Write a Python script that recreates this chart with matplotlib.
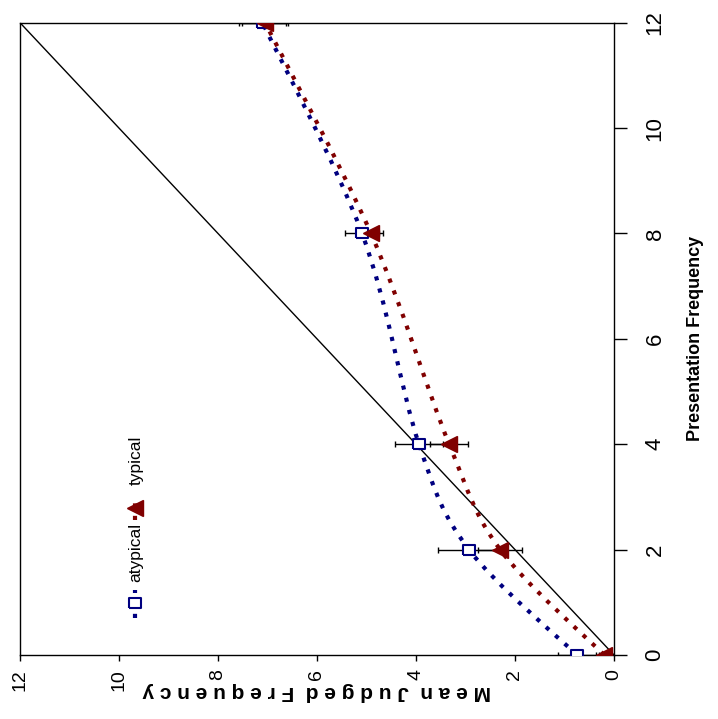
import matplotlib
matplotlib.use('Agg')
import matplotlib.pyplot as plt
from matplotlib.path import Path
from matplotlib.patches import PathPatch

# --- DATA (chart is drawn turned 90 deg: judged frequency runs right->left) ---
presentation = [0, 2, 4, 8, 12]
atypical = [0.75, 2.93, 3.94, 5.09, 7.10]
atypical_err = [0.38, 0.63, 0.48, 0.34, 0.47]
typical = [0.20, 2.30, 3.33, 4.91, 7.05]
typical_err = [0.10, 0.44, 0.39, 0.25, 0.47]
ticks = [0, 2, 4, 6, 8, 10, 12]

NAVY = '#000080'
DARKRED = '#800000'
FONT = ['Liberation Sans Narrow', 'Liberation Sans', 'DejaVu Sans']
plt.rcParams['font.family'] = FONT


def smooth_path(xs, ys):
    # Excel-style smoothed line: cubic bezier through each point
    pts = list(zip(xs, ys))
    n = len(pts)
    verts = [pts[0]]
    codes = [Path.MOVETO]
    for i in range(n - 1):
        p0 = pts[max(i - 1, 0)]
        p1 = pts[i]
        p2 = pts[i + 1]
        p3 = pts[min(i + 2, n - 1)]
        c1 = (p1[0] + (p2[0] - p0[0]) / 6, p1[1] + (p2[1] - p0[1]) / 6)
        c2 = (p2[0] - (p3[0] - p1[0]) / 6, p2[1] - (p3[1] - p1[1]) / 6)
        verts += [c1, c2, p2]
        codes += [Path.CURVE4] * 3
    return Path(verts, codes)


fig = plt.figure(figsize=(7.18, 7.19), dpi=100)
ax = fig.add_axes([20 / 718, 64 / 719, 594 / 718, 632.3 / 719])

# identity line
ax.plot([0, 12], [0, 12], color='black', linewidth=1, zorder=2)

# smoothed dotted curves
for xs, col in [(atypical, NAVY), (typical, DARKRED)]:
    ax.add_patch(PathPatch(smooth_path(xs, presentation), fill=False, edgecolor=col,
                           linewidth=3, linestyle=(0, (1, 2)), zorder=3))

# error bars
ax.errorbar(atypical, presentation, xerr=atypical_err, fmt='none', ecolor='black',
            elinewidth=1, capsize=2.5, capthick=1, zorder=4)
ax.errorbar(typical, presentation, xerr=typical_err, fmt='none', ecolor='black',
            elinewidth=1, capsize=2.5, capthick=1, zorder=4)

rect = [(-1.3, -1), (1.3, -1), (1.3, 1), (-1.3, 1), (-1.3, -1)]
ax.plot(atypical, presentation, linestyle='none', marker=rect, ms=9, mfc='white',
        mec=NAVY, mew=1.5, zorder=5)
ax.plot(typical, presentation, linestyle='none', marker='<', ms=12, mfc=DARKRED,
        mec=DARKRED, zorder=6)

ax.set_xlim(12, 0)
ax.set_ylim(0, 12)
ax.set_xticks(ticks)
ax.set_yticks(ticks)
ax.yaxis.tick_right()
ax.yaxis.set_label_position('right')
ax.tick_params(axis='y', direction='out', length=9, width=1, pad=13,
               labelrotation=90, labelsize=16)
ax.tick_params(axis='x', direction='out', length=4, width=1, pad=6,
               labelrotation=90, labelsize=14)
for lab in ax.get_yticklabels():
    lab.set_verticalalignment('center')
for sp in ax.spines.values():
    sp.set_linewidth(1)
    sp.set_color('black')

ax.set_ylabel('Presentation Frequency', fontsize=13, fontweight='bold', rotation=90)
ax.yaxis.set_label_coords(1.138, 0.5)
ax.yaxis.label.set_verticalalignment('center')
ax.yaxis.label.set_horizontalalignment('center')

ax.set_xlabel('M e a n  J u d g e d  F r e q u e n c y', fontsize=15,
              fontweight='bold', rotation=180)
ax.xaxis.set_label_coords(0.5, -0.058)
ax.xaxis.label.set_verticalalignment('center')

# legend, drawn by hand so it can be turned with the chart
lx = 0.1936
ax.plot([lx, lx], [0.0585, 0.1028], transform=ax.transAxes, color=NAVY,
        linewidth=3, linestyle=(0, (1, 2)), clip_on=False)
ax.plot([lx], [0.0822], transform=ax.transAxes, marker=rect, ms=9, mfc='white',
        mec=NAVY, mew=1.5)
ax.text(lx + 0.002, 0.1155, 'atypical', transform=ax.transAxes, rotation=90,
        ha='center', va='bottom', fontsize=12.5)
ax.plot([lx, lx], [0.2135, 0.2499], transform=ax.transAxes, color=DARKRED,
        linewidth=3, linestyle=(0, (1, 2)), clip_on=False)
ax.plot([lx], [0.2325], transform=ax.transAxes, marker='<', ms=12,
        mfc=DARKRED, mec=DARKRED)
ax.text(lx + 0.002, 0.269, 'typical', transform=ax.transAxes, rotation=90,
        ha='center', va='bottom', fontsize=12.5)

plt.savefig('out.png', dpi=100)
